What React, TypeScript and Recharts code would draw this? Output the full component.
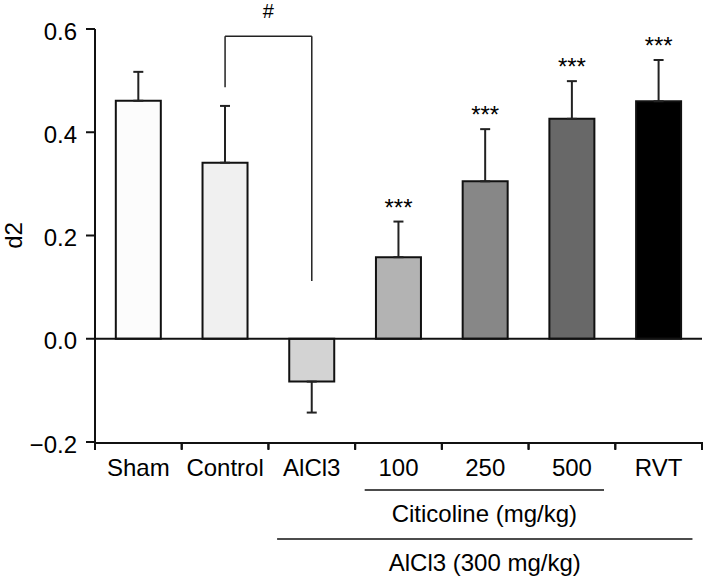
import React from 'react';
import {
  ComposedChart,
  Bar,
  Cell,
  ErrorBar,
  Line,
  LabelList,
  XAxis,
  YAxis,
  ReferenceLine,
} from 'recharts';

const categories = ['Sham', 'Control', 'AlCl3', '100', '250', '500', 'RVT'];
const means = [0.461, 0.341, -0.083, 0.158, 0.305, 0.426, 0.46];
const sems = [0.056, 0.11, 0.06, 0.069, 0.101, 0.073, 0.08];
const stars = ['', '', '', '***', '***', '***', '***'];
const fills = ['#fcfcfc', '#f0f0f0', '#d3d3d3', '#b3b3b3', '#878787', '#686868', '#000000'];
const yTicks = [-0.2, 0, 0.2, 0.4, 0.6];
const boundaryTicks = [0, 1, 2, 3, 4, 5, 6, 7];
const yMin = -0.2;
const tickDepth = 0.014;

// significance bracket (#) between Control and AlCl3
const bracketTop = 0.586;
const bracketLeftEnd = 0.487;
const bracketRightEnd = 0.112;

// group annotation lines under the x axis (on the boundary axis, 0..7)
const citicolineLine = { x1: 3.11, x2: 5.87, y: -0.293 };
const alcl3Line = { x1: 2.1, x2: 6.89, y: -0.388 };

const data = categories.map((name, i) => ({
  name,
  gx: i + 0.5,
  mean: means[i],
  err: means[i] >= 0 ? [0, sems[i]] : [sems[i], 0],
  starY: stars[i] ? means[i] + sems[i] : null,
  star: stars[i],
}));

const FONT = '"Liberation Sans", Arial, Helvetica, sans-serif';

const fmt = (v: number) => (v < 0 ? '\u2212' + Math.abs(v).toFixed(1) : v.toFixed(1));

const NoTick = () => <g />;

export default function App() {
  return (
    <div style={{ position: 'absolute', left: 0, top: 0, width: 703, height: 576, background: '#fff' }}>
      <ComposedChart
        width={703}
        height={576}
        data={data}
        barCategoryGap="24%"
        margin={{ top: 29, right: 1, left: 0, bottom: 132 }}
        style={{ fontFamily: FONT }}
      >
        <XAxis
          xAxisId="grid"
          type="number"
          dataKey="gx"
          domain={[0, 7]}
          ticks={boundaryTicks}
          allowDataOverflow
          interval={0}
          height={1}
          tick={NoTick}
          tickSize={7}
          stroke="#111"
          strokeWidth={2}
        />
        <XAxis
          xAxisId="cat"
          dataKey="name"
          type="category"
          height={1}
          axisLine={false}
          tickLine={false}
          tickSize={0}
          tickMargin={17}
          interval={0}
          tick={{ fill: '#000', fontSize: 24, fontFamily: FONT }}
        />
        <YAxis
          domain={[-0.2, 0.6]}
          ticks={yTicks}
          width={95}
          tickFormatter={fmt}
          tickSize={9}
          tickMargin={9}
          stroke="#111"
          strokeWidth={2}
          tick={{ fill: '#000', fontSize: 24, fontFamily: FONT, dy: 2 }}
          label={{
            value: 'd2',
            angle: -90,
            position: 'insideLeft',
            offset: 13,
            style: { textAnchor: 'middle', fontSize: 24, fill: '#000', fontFamily: FONT },
          }}
        />
        <Bar
          xAxisId="cat"
          dataKey="mean"
          stroke="#111"
          strokeWidth={2}
          isAnimationActive={false}
        >
          {data.map((d, i) => (
            <Cell key={d.name} fill={fills[i]} />
          ))}
          <ErrorBar dataKey="err" width={5} stroke="#222" strokeWidth={2} direction="y" isAnimationActive={false} />
        </Bar>
        <ReferenceLine xAxisId="cat" y={0} stroke="#111" strokeWidth={2} />
        {boundaryTicks.map((k) => (
          <ReferenceLine
            key={'t' + k}
            xAxisId="grid"
            segment={[
              { x: k, y: yMin },
              { x: k, y: yMin - tickDepth },
            ]}
            stroke="#111"
            strokeWidth={2}
            ifOverflow="visible"
          />
        ))}
        <Line
          xAxisId="cat"
          dataKey="starY"
          stroke="none"
          dot={false}
          activeDot={false}
          legendType="none"
          isAnimationActive={false}
        >
          <LabelList dataKey="star" position="top" offset={6} fill="#000" fontSize={24} fontFamily={FONT} />
        </Line>
        <ReferenceLine
          xAxisId="cat"
          segment={[
            { x: 'Control', y: bracketLeftEnd },
            { x: 'Control', y: bracketTop },
          ]}
          stroke="#222"
          strokeWidth={1.5}
          ifOverflow="visible"
        />
        <ReferenceLine
          xAxisId="cat"
          segment={[
            { x: 'Control', y: bracketTop },
            { x: 'AlCl3', y: bracketTop },
          ]}
          stroke="#222"
          strokeWidth={1.5}
          ifOverflow="visible"
          label={{ value: '#', position: 'top', offset: 18, fontSize: 20, fill: '#000', fontFamily: FONT }}
        />
        <ReferenceLine
          xAxisId="cat"
          segment={[
            { x: 'AlCl3', y: bracketTop },
            { x: 'AlCl3', y: bracketRightEnd },
          ]}
          stroke="#222"
          strokeWidth={1.5}
          ifOverflow="visible"
        />
        <ReferenceLine
          xAxisId="grid"
          segment={[
            { x: citicolineLine.x1, y: citicolineLine.y },
            { x: citicolineLine.x2, y: citicolineLine.y },
          ]}
          stroke="#111"
          strokeWidth={1.5}
          ifOverflow="visible"
          label={{ value: 'Citicoline (mg/kg)', position: 'bottom', offset: 15, fontSize: 24, fill: '#000', fontFamily: FONT }}
        />
        <ReferenceLine
          xAxisId="grid"
          segment={[
            { x: alcl3Line.x1, y: alcl3Line.y },
            { x: alcl3Line.x2, y: alcl3Line.y },
          ]}
          stroke="#111"
          strokeWidth={1.5}
          ifOverflow="visible"
          label={{ value: 'AlCl3 (300 mg/kg)', position: 'bottom', offset: 15, fontSize: 24, fill: '#000', fontFamily: FONT }}
        />
      </ComposedChart>
    </div>
  );
}
